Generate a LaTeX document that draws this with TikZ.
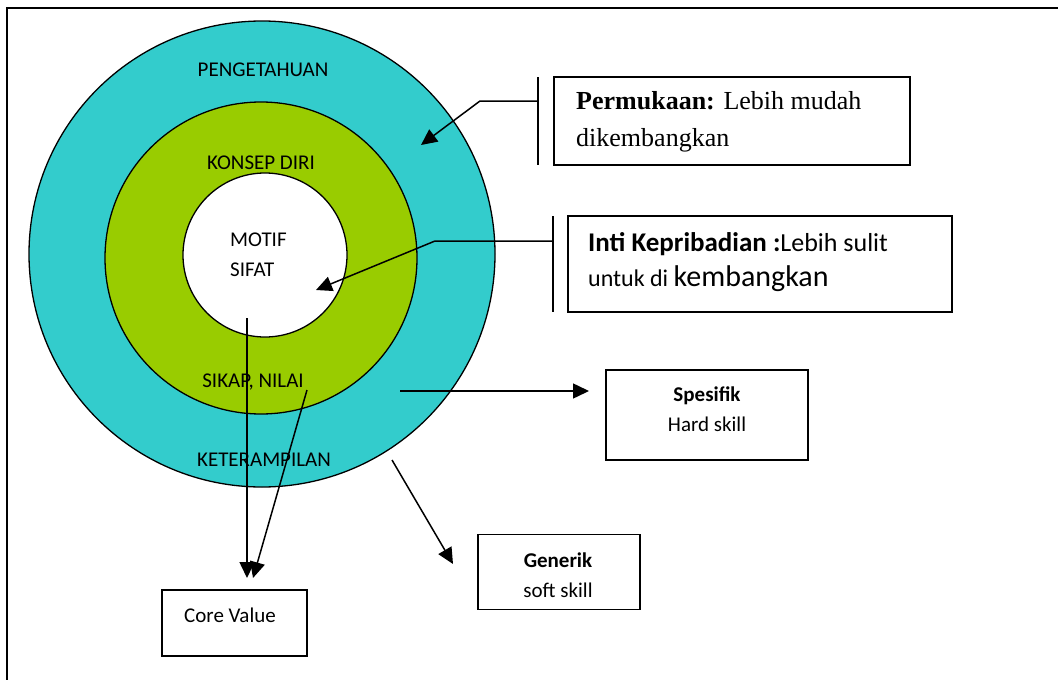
\documentclass[tikz,border=0pt]{standalone}
\usepackage{fontspec}
\setmainfont{Carlito}
\newfontfamily\serifface{Liberation Serif}
\usetikzlibrary{arrows.meta}
\definecolor{ringcyan}{HTML}{33CCCC}
\definecolor{ringgreen}{HTML}{99CC00}
\begin{document}
\begin{tikzpicture}[x=1pt,y=-1pt,
  lbl/.style={font=\fontsize{21}{30}\selectfont, inner sep=0pt},
  boxshape/.style={draw, line width=1.5pt, inner sep=0pt},
  bar/.style={line width=1.5pt},
  arr/.style={line width=1.5pt, -{Triangle[length=16pt,width=15pt]}},
  ring/.style={circle, draw, line width=1.3pt, inner sep=0pt}]
\useasboundingbox (0,0) rectangle (1058,680);
\draw[line width=2pt] (7,680) -- (7,8) -- (1058,8);

% rings
\node[ring, fill=ringcyan, minimum size=466pt] (outer) at (262,254) {};
\node[ring, fill=ringgreen, minimum size=312pt] (middle) at (261,258) {};
\node[ring, fill=white, minimum size=164pt] (inner) at (265,255) {};

% ring labels
\node[lbl] (peng) at (263,70) {PENGETAHUAN};
\node[lbl] (konsep) at (261,163) {KONSEP DIRI};
\node[lbl, anchor=west, align=left] (motif) at (230,255) {MOTIF\\SIFAT};
\node[lbl] (sikap) at (253,382) {SIKAP, NILAI};
\node[lbl] (ket) at (264,460) {KETERAMPILAN};

% callout 1
\node[boxshape, minimum width=356pt, minimum height=88pt] (permbox) at (732,121) {};
\node[anchor=west, align=left, inner sep=0pt, font=\serifface\fontsize{26}{37}\selectfont] (permtext) at (576,122)
  {\textbf{Permukaan:} Lebih mudah\\dikembangkan};
\coordinate (bar1a) at (538,77);
\coordinate (bar1b) at (538,165);
\coordinate (bar1m) at (538,101);
\coordinate (bend1) at (480,101);
\coordinate (tip1) at (421,145);
\draw[bar] (bar1a) -- (bar1b);
\draw[arr] (bar1m) -- (bend1) -- (tip1);

% callout 2
\node[boxshape, minimum width=384pt, minimum height=96pt] (intibox) at (760,264) {};
\node[anchor=west, align=left, inner sep=0pt, font=\fontsize{25}{35}\selectfont] (intitext) at (588,262)
  {{\fontsize{27}{35}\selectfont\bfseries Inti Kepribadian :}{\fontsize{26}{35}\selectfont Lebih sulit}\\
   {\fontsize{24}{35}\selectfont untuk di }{\fontsize{30}{35}\selectfont kembangkan}};
\coordinate (bar2a) at (553,216);
\coordinate (bar2b) at (553,312);
\coordinate (bar2m) at (553,241);
\coordinate (bend2) at (435,241);
\coordinate (tip2) at (316,290);
\draw[bar] (bar2a) -- (bar2b);
\draw[arr] (bar2m) -- (bend2) -- (tip2);

% spesifik
\node[boxshape, minimum width=202pt, minimum height=90pt] (spesbox) at (707,415) {};
\node[lbl, align=center] (spestext) at (707,409) {\textbf{Spesifik}\\Hard skill};
\coordinate (spesfrom) at (400,391);
\coordinate (spesto) at (589,391);
\draw[arr] (spesfrom) -- (spesto);

% generik
\node[boxshape, minimum width=162pt, minimum height=75pt] (genbox) at (559,572) {};
\node[lbl, align=center] (gentext) at (558,575) {\textbf{Generik}\\soft skill};
\coordinate (genfrom) at (392,460);
\coordinate (gento) at (453,564);
\draw[arr] (genfrom) -- (gento);

% core value
\node[boxshape, minimum width=145pt, minimum height=66pt] (corebox) at (234.5,623) {};
\node[lbl] (coretext) at (230,615) {Core Value};
\coordinate (corefromA) at (247,318);
\coordinate (coretoA) at (247,578);
\coordinate (corefromB) at (307,390);
\coordinate (coretoB) at (253,578);
\draw[arr] (corefromA) -- (coretoA);
\draw[arr] (corefromB) -- (coretoB);
\end{tikzpicture}
\end{document}
